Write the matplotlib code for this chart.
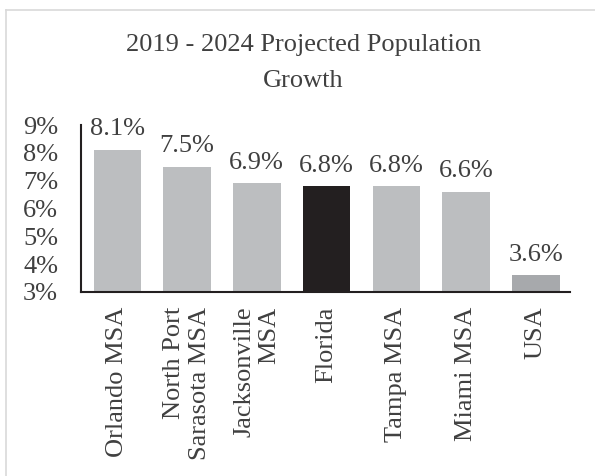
import matplotlib
matplotlib.use("Agg")
import matplotlib.pyplot as plt
from matplotlib.lines import Line2D

categories = ["Orlando MSA", "North Port\nSarasota MSA", "Jacksonville\nMSA", "Florida",
              "Tampa MSA", "Miami MSA", "USA"]
values = [8.1, 7.5, 6.9, 6.8, 6.8, 6.6, 3.6]
labels = ["8.1%", "7.5%", "6.9%", "6.8%", "6.8%", "6.6%", "3.6%"]
colors = ["#BCBEC0", "#BCBEC0", "#BCBEC0", "#231F20", "#BCBEC0", "#BCBEC0", "#A7A9AC"]
yticks = [3, 4, 5, 6, 7, 8, 9]
ytick_labels = ["3%", "4%", "5%", "6%", "7%", "8%", "9%"]
title = "2019 - 2024 Projected Population\nGrowth"

plt.rcParams['font.family'] = ['Liberation Serif', 'DejaVu Serif']
txt = "#404040"
fs = 19

fig = plt.figure(figsize=(5.95, 4.76), dpi=100)
ax = fig.add_axes([81/595, 1-292/476, (570-81)/595, (292-125)/476])

x = list(range(len(categories)))
ax.bar(x, values, width=0.68, color=colors, bottom=0)
ax.set_ylim(3, 9)
ax.set_xlim(-0.52, 6.49)
ax.set_yticks(yticks)
ax.set_yticklabels(ytick_labels, fontsize=fs, color=txt)
ax.set_xticks(x)
ax.set_xticklabels(categories, rotation=90, fontsize=fs, color=txt,
                   va='top', ha='center', multialignment='right')
ax.tick_params(axis='x', length=0, pad=10.5)
ax.tick_params(axis='y', length=0, pad=16.5)
for s in ['top', 'right']:
    ax.spines[s].set_visible(False)
for s in ['left', 'bottom']:
    ax.spines[s].set_color('#231F20')
    ax.spines[s].set_linewidth(1.5)

for xi, v, lab in zip(x, values, labels):
    ax.annotate(lab, (xi, v), xytext=(0, 7), textcoords='offset points',
                ha='center', va='bottom', fontsize=fs, color=txt, clip_on=False)

fig.text(0.51, 1-63/476, title, ha='center', va='center', fontsize=fs,
         color=txt, linespacing=1.8)

# outer chart border
fig.add_artist(Line2D([6/595, 1], [1-10/476, 1-10/476], color='#D9D9D9', lw=1.2,
                      transform=fig.transFigure))
fig.add_artist(Line2D([6/595, 6/595], [0, 1-10/476], color='#D9D9D9', lw=1.2,
                      transform=fig.transFigure))

fig.savefig("out.png", dpi=100, facecolor='white')
